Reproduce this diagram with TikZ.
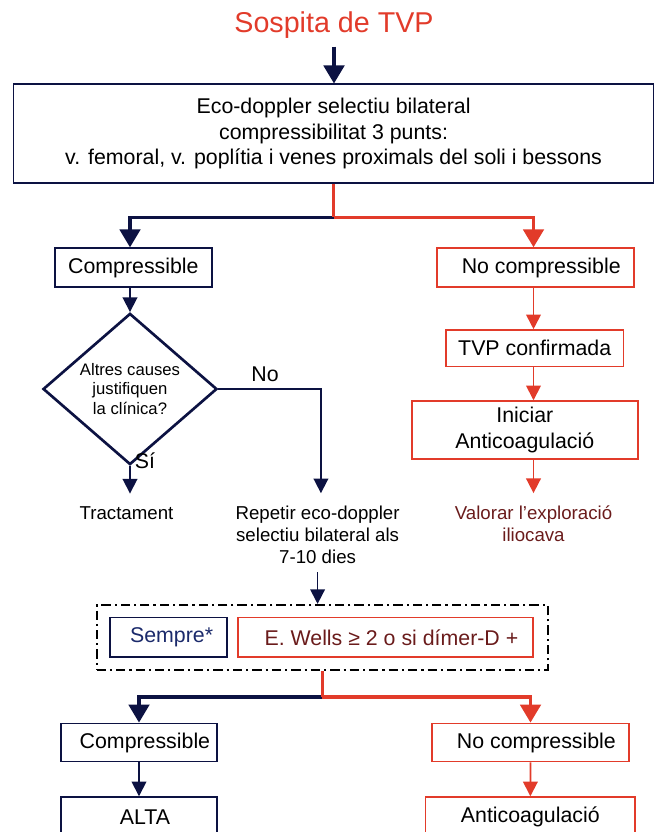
\documentclass[tikz,border=0pt]{standalone}
\usepackage{fontspec}
\setmainfont{Liberation Sans}
\usetikzlibrary{shapes.geometric}
\usetikzlibrary{arrows.meta}
\definecolor{navy}{HTML}{0C1242}
\definecolor{tvpred}{HTML}{E23B2A}
\definecolor{darkred}{HTML}{6A1B1B}
\definecolor{sempreblue}{HTML}{1B2A6B}
\begin{document}
\begin{tikzpicture}[x=0.75pt, y=-0.75pt,
    sz/.style 2 args={minimum width=#1*0.75pt, minimum height=#2*0.75pt},
    box/.style={rectangle, draw, line width=1.1pt, inner sep=0pt,
      font=\fontsize{16}{19}\selectfont, align=center},
    plain/.style={inner sep=0pt, font=\fontsize{14}{16.5}\selectfont, align=center},
    big/.style={line width=2.3pt, -{Triangle[width=15.5pt,length=13.5pt]}},
    small/.style={line width=1.3pt, -{Triangle[width=11pt,length=11pt]}},
    splitline/.style={line width=2.3pt}
    ]
    \useasboundingbox (0,0) rectangle (660,832);
    \clip (0,0) rectangle (660,832);

    \node[anchor=base, font=\fontsize{21.5}{26}\selectfont, text=tvpred] (sospita) at (334,32) {Sospita de TVP};
    \node[box, draw=navy, sz={640}{99}] (eco) at (333.6,133.7)
      {Eco-doppler selectiu bilateral\\ compressibilitat 3 punts:\\ v. femoral, v. poplítia i venes proximals del soli i bessons};

    \node[box, draw=navy, sz={157}{39}] (comp1) at (133.4,267.5) {Compressible};
    \node[box, draw=tvpred, sz={197}{39}] (nocomp1) at (535.3,267.5) {\ \ No compressible};

    \node[diamond, draw=navy, line width=2pt, inner sep=0pt, sz={174}{125}, align=center,
      font=\fontsize{12.5}{14.6}\selectfont] (diam) at (130,389) {Altres causes\\ justifiquen\\ la clínica?};
    \node[font=\fontsize{16}{19}\selectfont] (no) at (265,374) {No};
    \node[font=\fontsize{16}{19}\selectfont] (si) at (145,461) {Sí};
    \node[plain] (tract) at (126.5,513) {Tractament};
    \node[plain] (repet) at (317.6,535) {Repetir eco-doppler\\ selectiu bilateral als\\ 7-10 dies};

    \node[box, draw=tvpred, sz={177.5}{36.7}] (tvp) at (534.7,348.3) {TVP confirmada};
    \node[box, draw=tvpred, sz={226}{58}, font=\fontsize{16}{19.5}\selectfont] (inic) at (524.8,430) {Iniciar\\ Anticoagulació};
    \node[plain, text=darkred] (valor) at (533.5,524) {Valorar l’exploració\\ iliocava};

    \node[rectangle, draw=black, line width=1.6pt, dash pattern=on 7pt off 3pt on 1.6pt off 3pt,
      sz={451.4}{65}] (dashbox) at (322.3,637.5) {};
    \node[box, draw=navy, text=sempreblue, sz={117}{39.3}] (sempre) at (168.6,637.3) {\ Sempre*};
    \node[box, draw=tvpred, text=darkred, sz={295}{39.3}] (wells) at (385.5,637.3) {\ \ E. Wells ≥ 2 o si dímer-D +};

    \node[box, draw=navy, sz={156}{38.4}] (comp2) at (139,742.5) {\ \ Compressible};
    \node[box, draw=tvpred, sz={197}{38.4}] (nocomp2) at (530.5,742.5) {\ \ No compressible};
    \node[box, draw=navy, sz={156}{40}] (alta) at (139,817) {\ \ ALTA};
    \node[box, draw=tvpred, sz={209.4}{40}] (anti) at (530.3,817) {Anticoagulació};

    \coordinate (split1) at (333.6,217.3);
    \coordinate (split2) at (322.3,697);

    \draw[big, navy, shorten <=3pt] (sospita.south) -- (sospita.south |- eco.north);
    \draw[big, navy] (split1) -| (comp1.north -| diam);
    \draw[big, tvpred] (split1) -| (nocomp1.north -| valor);
    \draw[splitline, tvpred] (eco) -- (split1);

    \draw[small, navy] (comp1.south -| diam) -- (diam.north);
    \draw[small, navy, shorten >=9.5pt] (diam.south) -- (diam.south |- tract.north);
    \draw[small, navy, shorten >=9.5pt] (diam.east) -| ([xshift=2.5pt]repet.north);
    \draw[small, navy, shorten <=6pt] (repet.south) -- (repet.south |- dashbox.north);

    \draw[small, tvpred] (nocomp1.south -| valor) -- (tvp.north -| valor);
    \draw[small, tvpred] (tvp.south -| valor) -- (inic.north -| valor);
    \draw[small, tvpred, shorten >=9.5pt] (inic.south -| valor) -- (valor.north);

    \draw[big, navy] (split2) -| (comp2.north);
    \draw[big, tvpred] (split2) -| (nocomp2.north);
    \draw[splitline, tvpred] (dashbox) -- (split2);
    \draw[small, navy] (comp2) -- (alta);
    \draw[small, tvpred] (nocomp2) -- (anti);
\end{tikzpicture}
\end{document}
